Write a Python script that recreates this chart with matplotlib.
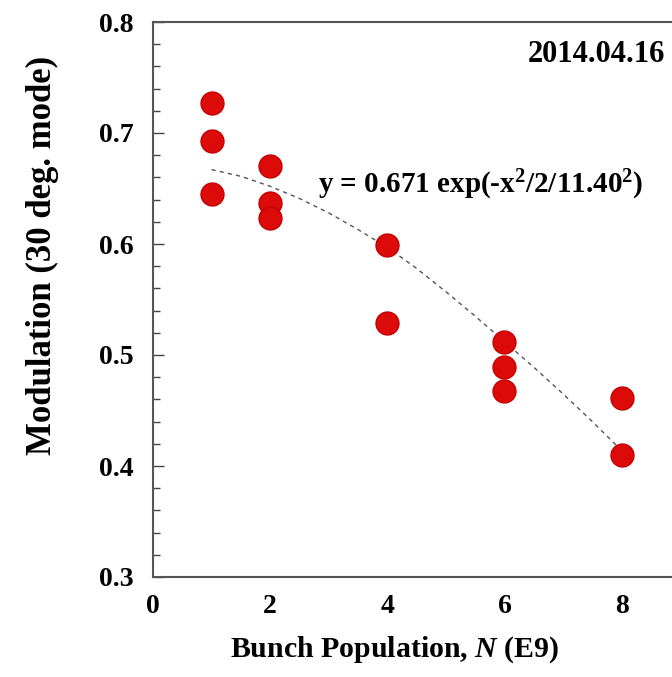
import matplotlib
matplotlib.use("Agg")
import matplotlib.pyplot as plt
from matplotlib.ticker import MultipleLocator

plt.rcParams['font.family'] = ['Liberation Serif', 'DejaVu Serif']
plt.rcParams['font.weight'] = 'bold'
plt.rcParams['mathtext.fontset'] = 'custom'
plt.rcParams['mathtext.rm'] = 'Liberation Serif:bold'
plt.rcParams['mathtext.it'] = 'Liberation Serif:italic:bold'
plt.rcParams['mathtext.bf'] = 'Liberation Serif:bold'
plt.rcParams['mathtext.default'] = 'rm'

# measured data
bunch_pop = [1, 1, 1, 2, 2, 2, 4, 4, 6, 6, 6, 8, 8]
modulation = [0.727, 0.693, 0.645, 0.670, 0.637, 0.623, 0.599, 0.529,
              0.512, 0.489, 0.468, 0.461, 0.410]

# fitted curve (dashed)
fit_x = [1, 1.5, 2, 2.5, 3, 3.5, 4, 4.5, 5, 5.5, 6, 6.5, 7, 7.5, 8]
fit_y = [0.667, 0.661, 0.652, 0.641, 0.628, 0.613, 0.597, 0.578, 0.557,
         0.535, 0.512, 0.489, 0.465, 0.440, 0.414]

x_ticks = [0, 2, 4, 6, 8]
y_ticks = [0.3, 0.4, 0.5, 0.6, 0.7, 0.8]

fig = plt.figure(figsize=(6.72, 6.77), dpi=100)
ax = fig.add_axes([153/672, 1-577/677, 1-153/672, (577-22)/677])

ax.plot(fit_x, fit_y, linestyle=(0, (3, 3)), color='#555555', lw=1.0, zorder=2)
ax.plot(bunch_pop, modulation, 'o', ms=16.5, color='#dd0a0a',
        mec='#c40000', mew=1.0, zorder=3)

ax.set_xlim(0, 8.86)
ax.set_ylim(0.3, 0.8)
ax.set_xticks(x_ticks)
ax.set_yticks(y_ticks)
ax.set_yticklabels([f"{v:.1f}" for v in y_ticks])
ax.yaxis.set_minor_locator(MultipleLocator(0.02))
ax.tick_params(axis='y', which='major', direction='in', length=8, width=1,
               labelsize=20, pad=14, color='#444444')
ax.tick_params(axis='y', which='minor', direction='in', length=5, width=1,
               color='#444444')
ax.tick_params(axis='x', which='both', length=0, labelsize=20, pad=12)

for s in ['left', 'bottom', 'top']:
    ax.spines[s].set_color('#555555')
    ax.spines[s].set_linewidth(1.5)
ax.spines['right'].set_visible(False)

ax.set_xlabel('Bunch Population, $\\mathit{N}$ (E9)', fontsize=21.5,
              fontweight='bold', va='top')
ax.xaxis.set_label_coords((395-153)/519, (577-634)/555)
ax.set_ylabel('Modulation (30 deg. mode)', fontsize=25,
              fontweight='bold', va='center')
ax.yaxis.set_label_coords((42-153)/519, (577-255)/555)

ax.text((318-153)/(672-153), (577-185)/(577-22), 'y = 0.671 exp(-x$^2$/2/11.40$^2$)',
        transform=ax.transAxes, fontsize=21, ha='left', va='center')
ax.text((665-153)/(672-153), (577-55)/(577-22), '2014.04.16',
        transform=ax.transAxes, fontsize=22, ha='right', va='center')

fig.savefig('out.png', dpi=100, facecolor='white')
